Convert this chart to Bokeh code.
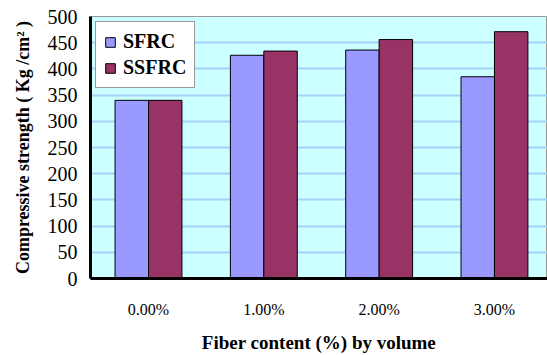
import numpy as np
from bokeh.plotting import figure
from bokeh.models import Range1d, FixedTicker, Legend, LegendItem, ColumnDataSource
from bokeh.embed import file_html
from bokeh.resources import INLINE

categories = ["0.00%", "1.00%", "2.00%", "3.00%"]
sfrc = [340, 426, 436, 385]
ssfrc = [340, 434, 456, 471]
y_ticks = list(range(0, 501, 50))

xs = np.arange(len(categories))
src = ColumnDataSource(dict(x1=xs - 0.145, x2=xs + 0.145, sfrc=sfrc, ssfrc=ssfrc))

p = figure(width=547, height=355, output_backend="svg", toolbar_location=None,
           x_range=Range1d(-0.503, 3.46), y_range=Range1d(0, 500),
           min_border_left=90, min_border_right=0, min_border_top=16, min_border_bottom=72)

p.background_fill_color = "#CCFFFF"
p.border_fill_color = "white"
p.outline_line_color = "#999999"
p.outline_line_width = 1

r1 = p.vbar(x="x1", top="sfrc", width=0.29, source=src, fill_color="#9999FF", line_color="black", line_width=1)
r2 = p.vbar(x="x2", top="ssfrc", width=0.29, source=src, fill_color="#993366", line_color="black", line_width=1)

p.xgrid.grid_line_color = None
p.ygrid.grid_line_color = "#A6D2FA"
p.ygrid.grid_line_width = 2
p.ygrid.ticker = FixedTicker(ticks=y_ticks)

p.yaxis.ticker = FixedTicker(ticks=y_ticks)
p.xaxis.ticker = FixedTicker(ticks=list(xs))
p.xaxis.major_label_overrides = {int(i): c for i, c in enumerate(categories)}

for ax in (p.xaxis[0], p.yaxis[0]):
    ax.axis_line_width = 3
    ax.axis_line_color = "black"
    ax.major_tick_line_color = None
    ax.minor_tick_line_color = None
    ax.major_tick_out = 0
    ax.major_tick_in = 0
    ax.major_label_text_font = "Liberation Serif"
    ax.major_label_text_color = "black"
    ax.axis_label_text_font = "Liberation Serif"
    ax.axis_label_text_font_style = "bold"
    ax.axis_label_text_color = "black"

p.yaxis.major_label_text_font_size = "20px"
p.yaxis.major_label_standoff = 13
p.yaxis.axis_label = "Compressive strength ( Kg /cm\u00b2 )"
p.yaxis.axis_label_text_font_size = "18px"
p.yaxis.axis_label_standoff = 12

p.xaxis.major_label_text_font_size = "16px"
p.xaxis.major_label_standoff = 22
p.xaxis.axis_label = "Fiber content (%) by volume"
p.xaxis.axis_label_text_font_size = "19px"
p.xaxis.axis_label_standoff = 11

legend = Legend(items=[LegendItem(label="SFRC", renderers=[r1]),
                       LegendItem(label="SSFRC", renderers=[r2])],
                location="top_left", margin=5)
legend.label_text_font = "Liberation Serif"
legend.label_text_font_style = "bold"
legend.label_text_font_size = "20px"
legend.label_text_color = "black"
legend.glyph_width = 12
legend.glyph_height = 12
legend.label_height = 17
legend.label_standoff = 7
legend.padding = 8
legend.spacing = 3
legend.border_line_color = "#333333"
legend.border_line_width = 1
legend.background_fill_color = "white"
legend.background_fill_alpha = 1
p.add_layout(legend)

open("out.html", "w").write(file_html(p, INLINE))
